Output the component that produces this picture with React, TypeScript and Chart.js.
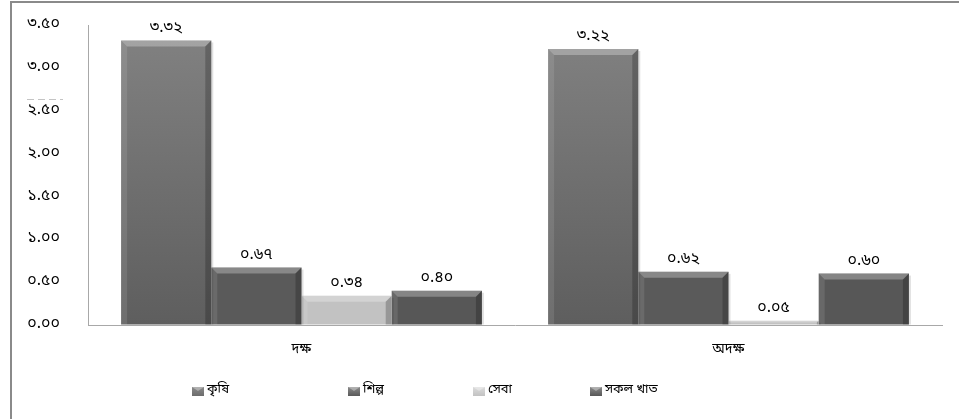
import React, { useEffect, useRef } from "react";
import { Chart, registerables } from "chart.js";

Chart.register(...registerables);

const categories = ["দক্ষ", "অদক্ষ"];
const seriesNames = ["কৃষি", "শিল্প", "সেবা", "সকল খাত"];
const krishi = [3.32, 3.22];
const shilpa = [0.67, 0.62];
const seba = [0.34, 0.05];
const sakal = [0.4, 0.6];
const yTickValues = [0, 0.5, 1, 1.5, 2, 2.5, 3, 3.5];

const seriesColors = ["#6c6c6c", "#5a5a5a", "#c2c2c2", "#575757"];
const FONT = "'Noto Sans Bengali', 'Vrinda', 'Noto Sans', 'DejaVu Sans', sans-serif";

const bnDigits = ["০", "১", "২", "৩", "৪", "৫", "৬", "৭", "৮", "৯"];
const toBn = (s: string) => s.replace(/[0-9]/g, (d) => bnDigits[Number(d)]);

const bevelPlugin = {
  id: "bevel",
  afterDatasetsDraw(chart: any) {
    const ctx = chart.ctx;
    chart.data.datasets.forEach((_: any, di: number) => {
      const meta = chart.getDatasetMeta(di);
      meta.data.forEach((el: any) => {
        const left = el.x - el.width / 2;
        const right = el.x + el.width / 2;
        const top = Math.min(el.y, el.base);
        const bottom = Math.max(el.y, el.base);
        const h = bottom - top;
        const b = Math.min(6, h / 2);
        ctx.save();
        ctx.fillStyle = "rgba(255,255,255,0.28)";
        ctx.beginPath();
        ctx.moveTo(left, top);
        ctx.lineTo(right, top);
        ctx.lineTo(right - b, top + b);
        ctx.lineTo(left + b, top + b);
        ctx.closePath();
        ctx.fill();
        ctx.fillStyle = "rgba(0,0,0,0.22)";
        ctx.beginPath();
        ctx.moveTo(right, top);
        ctx.lineTo(right, bottom);
        ctx.lineTo(right - b, bottom);
        ctx.lineTo(right - b, top + b);
        ctx.closePath();
        ctx.fill();
        ctx.fillStyle = "rgba(255,255,255,0.1)";
        ctx.beginPath();
        ctx.moveTo(left, top);
        ctx.lineTo(left + b, top + b);
        ctx.lineTo(left + b, bottom);
        ctx.lineTo(left, bottom);
        ctx.closePath();
        ctx.fill();
        ctx.fillStyle = "rgba(0,0,0,0.12)";
        ctx.fillRect(right, top + 2, 2, h - 2);
        ctx.restore();
      });
    });
  },
};

const labelsPlugin = {
  id: "valueLabels",
  afterDatasetsDraw(chart: any) {
    const ctx = chart.ctx;
    ctx.save();
    ctx.font = `16px ${FONT}`;
    ctx.fillStyle = "#000";
    ctx.textAlign = "center";
    ctx.textBaseline = "middle";
    chart.data.datasets.forEach((ds: any, di: number) => {
      const meta = chart.getDatasetMeta(di);
      meta.data.forEach((el: any, i: number) => {
        ctx.fillText(toBn(Number(ds.data[i]).toFixed(2)), el.x, el.y - 12);
      });
    });
    ctx.restore();
  },
};

const legendPlugin = {
  id: "customLegend",
  afterDraw(chart: any) {
    const ctx = chart.ctx;
    const area = chart.chartArea;
    const w = area.right - area.left;
    const fracs = [0.122, 0.305, 0.451, 0.588];
    ctx.save();
    ctx.font = `13px ${FONT}`;
    ctx.textBaseline = "middle";
    ctx.textAlign = "left";
    seriesNames.forEach((name, i) => {
      const x = Math.round(area.left + fracs[i] * w);
      const y = 387;
      const g = ctx.createLinearGradient(0, y, 0, y + 9);
      g.addColorStop(0, i === 2 ? "#dcdcdc" : "#8a8a8a");
      g.addColorStop(1, seriesColors[i]);
      ctx.fillStyle = g;
      ctx.fillRect(x, y, 12, 9);
      ctx.fillStyle = "rgba(255,255,255,0.35)";
      ctx.beginPath();
      ctx.moveTo(x, y);
      ctx.lineTo(x + 12, y);
      ctx.lineTo(x + 6, y + 4);
      ctx.closePath();
      ctx.fill();
      ctx.fillStyle = "#000";
      ctx.fillText(name, x + 15, y + 3);
    });
    ctx.restore();
  },
};

const framePlugin = {
  id: "frame",
  afterDraw(chart: any) {
    const ctx = chart.ctx;
    ctx.save();
    ctx.strokeStyle = "#8a8a8a";
    ctx.lineWidth = 2;
    ctx.beginPath();
    ctx.moveTo(11, 419);
    ctx.lineTo(11, 2);
    ctx.lineTo(959, 2);
    ctx.stroke();
    ctx.strokeStyle = "#c4c4c4";
    ctx.lineWidth = 1;
    ctx.setLineDash([7, 4]);
    ctx.beginPath();
    ctx.moveTo(27, 99.5);
    ctx.lineTo(63, 99.5);
    ctx.stroke();
    ctx.restore();
  },
};

export default function App() {
  const ref = useRef<HTMLCanvasElement | null>(null);

  useEffect(() => {
    if (!ref.current) return;
    const krishiFill = (c: any) => {
      const area = c.chart.chartArea;
      if (!area) return seriesColors[0];
      const g = c.chart.ctx.createLinearGradient(0, area.top, 0, area.bottom);
      g.addColorStop(0, "#828282");
      g.addColorStop(1, "#5e5e5e");
      return g;
    };
    const chart = new Chart(ref.current, {
      type: "bar",
      data: {
        labels: categories,
        datasets: [
          { label: seriesNames[0], data: krishi, backgroundColor: krishiFill as any },
          { label: seriesNames[1], data: shilpa, backgroundColor: seriesColors[1] },
          { label: seriesNames[2], data: seba, backgroundColor: seriesColors[2] },
          { label: seriesNames[3], data: sakal, backgroundColor: seriesColors[3] },
        ],
      },
      options: {
        responsive: false,
        animation: false,
        datasets: { bar: { barPercentage: 1, categoryPercentage: 0.845 } },
        layout: { padding: { left: 0, right: 17, top: 25, bottom: 0 } },
        plugins: { legend: { display: false }, tooltip: { enabled: false } },
        scales: {
          x: {
            grid: { display: false, drawTicks: false },
            border: { display: true, color: "#a8a8a8", width: 1 },
            ticks: { color: "#000", font: { family: FONT, size: 14 }, padding: 17 },
            afterFit: (s: any) => {
              s.height = 94;
            },
          },
          y: {
            min: 0,
            max: 3.5,
            afterBuildTicks: (s: any) => {
              s.ticks = yTickValues.map((v) => ({ value: v }));
            },
            grid: {
              display: true,
              drawOnChartArea: false,
              drawTicks: true,
              tickLength: 28,
              tickColor: "rgba(0,0,0,0)",
            },
            border: { display: true, color: "#a8a8a8", width: 1 },
            ticks: {
              color: "#000",
              font: { family: FONT, size: 16 },
              padding: 0,
              callback: (v: any) => toBn(Number(v).toFixed(2)),
            },
            afterFit: (s: any) => {
              s.width = 88;
            },
          },
        },
      },
      plugins: [bevelPlugin, labelsPlugin, legendPlugin, framePlugin],
    });
    return () => chart.destroy();
  }, []);

  return (
    <div style={{ position: "fixed", left: 0, top: 0, width: 959, height: 419, background: "#fff" }}>
      <canvas ref={ref} width={959} height={419} />
    </div>
  );
}
